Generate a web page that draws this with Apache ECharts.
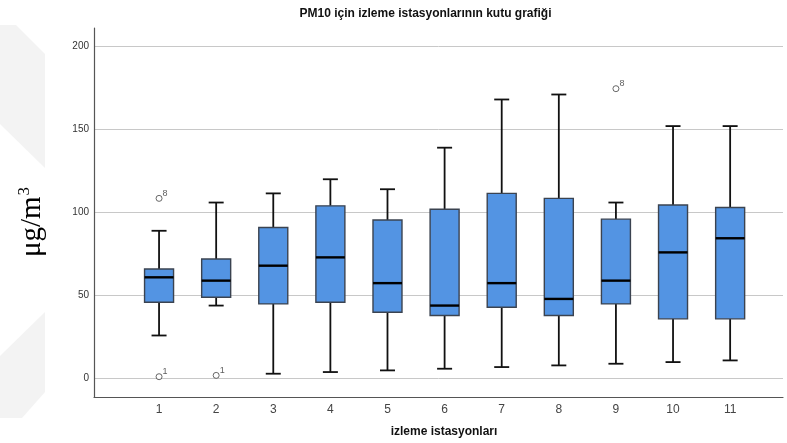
<!DOCTYPE html>
<html>
<head>
<meta charset="utf-8">
<script src="https://cdn.jsdelivr.net/npm/echarts@6/dist/echarts.min.js"></script>
<style>
  html, body { margin: 0; padding: 0; background: #fff; }
  #chart { width: 787px; height: 443px; }
</style>
</head>
<body>
<div id="chart"></div>
<script>
// station labels and box statistics
const stations = ["1", "2", "3", "4", "5", "6", "7", "8", "9", "10", "11"];
const whiskerLow = [26, 44, 3, 4, 5, 6, 7, 8, 9, 10, 11];
const q1 = [46, 49, 45, 46, 40, 38, 43, 38, 45, 36, 36];
const median = [61, 59, 68, 73, 57.5, 44, 57.5, 48, 59, 76, 84.5];
const q3 = [66, 72, 91, 104, 95.5, 102, 111.5, 108.5, 96, 104.5, 103];
const whiskerHigh = [89, 106, 111.5, 120, 114, 139, 168, 171, 106, 152, 152];

// outliers: [station index, value, case label]
const outlierStation = [0, 0, 1, 8];
const outlierValue = [108.5, 1.2, 2, 174.5];
const outlierCase = ["8", "1", "1", "8"];

const yTicks = [0, 50, 100, 150, 200];

const boxData = stations.map((s, i) => [i, whiskerLow[i], q1[i], median[i], q3[i], whiskerHigh[i]]);
const outlierData = outlierStation.map((s, i) => ({ value: [s, outlierValue[i]], name: outlierCase[i] }));

const chart = echarts.init(document.getElementById("chart"), null, { renderer: "canvas" });

const BOX_HALF = 14.5;
const CAP_HALF = 7.5;

function renderBox(params, api) {
  const idx = api.value(0);
  const pLow = api.coord([idx, api.value(1)]);
  const pQ1 = api.coord([idx, api.value(2)]);
  const pMed = api.coord([idx, api.value(3)]);
  const pQ3 = api.coord([idx, api.value(4)]);
  const pHigh = api.coord([idx, api.value(5)]);
  const x = pMed[0];
  const whisker = { stroke: "#111", lineWidth: 1.8 };
  return {
    type: "group",
    children: [
      { type: "line", shape: { x1: x, y1: pQ3[1], x2: x, y2: pHigh[1] }, style: whisker },
      { type: "line", shape: { x1: x - CAP_HALF, y1: pHigh[1], x2: x + CAP_HALF, y2: pHigh[1] }, style: whisker },
      { type: "line", shape: { x1: x, y1: pQ1[1], x2: x, y2: pLow[1] }, style: whisker },
      { type: "line", shape: { x1: x - CAP_HALF, y1: pLow[1], x2: x + CAP_HALF, y2: pLow[1] }, style: whisker },
      {
        type: "rect",
        shape: { x: x - BOX_HALF, y: pQ3[1], width: BOX_HALF * 2, height: pQ1[1] - pQ3[1] },
        style: { fill: "#5394e3", stroke: "#3b4350", lineWidth: 1.4 }
      },
      { type: "line", shape: { x1: x - BOX_HALF, y1: pMed[1], x2: x + BOX_HALF, y2: pMed[1] }, style: { stroke: "#000", lineWidth: 2.4 } }
    ]
  };
}

chart.setOption({
  animation: false,
  backgroundColor: "#fff",
  graphic: [
    // faint watermark shapes at the left edge
    { type: "polygon", shape: { points: [[0, 25], [16, 25], [45, 54], [45, 168], [0, 124]] }, style: { fill: "#f3f3f3" }, z: -10 },
    { type: "polygon", shape: { points: [[45, 312], [45, 392], [22, 418], [0, 418], [0, 356]] }, style: { fill: "#f3f3f3" }, z: -10 },
    {
      type: "text", x: 425.5, y: 14,
      style: { text: "PM10 için izleme istasyonlarının kutu grafiği", font: "bold 12px 'Liberation Sans', Arial", fill: "#111", textAlign: "center", textVerticalAlign: "middle" }
    },
    {
      type: "text", x: 444, y: 432,
      style: { text: "izleme istasyonları", font: "bold 12px 'Liberation Sans', Arial", fill: "#111", textAlign: "center", textVerticalAlign: "middle" }
    },
    {
      type: "text", x: 32, y: 222, rotation: Math.PI / 2,
      style: {
        text: "{a|μg/m}{b|3}",
        textAlign: "center", textVerticalAlign: "middle",
        rich: {
          a: { fontFamily: "'Liberation Serif', 'Times New Roman', serif", fontSize: 29, fill: "#000" },
          b: { fontFamily: "'Liberation Serif', 'Times New Roman', serif", fontSize: 17, fill: "#000", verticalAlign: "top", padding: [0, 0, 14, 1] }
        }
      }
    }
  ],
  grid: [
    { left: 94, right: 4, top: 28, bottom: 46 },          // frame with axis lines
    { left: 94, right: 4, top: 46.3, bottom: 64.3 },      // y labels and grid lines
    { left: 130.5, right: 28.3, top: 46.3, bottom: 64.3 } // boxes
  ],
  xAxis: [
    { gridIndex: 0, type: "value", min: 0, max: 1, axisLine: { show: true, onZero: false, lineStyle: { color: "#555", width: 1.2 } }, axisTick: { show: false }, axisLabel: { show: false }, splitLine: { show: false } },
    { gridIndex: 1, type: "value", show: false, min: 0, max: 1 },
    {
      gridIndex: 2, type: "category", data: stations, boundaryGap: true,
      axisLine: { show: false }, axisTick: { show: false }, splitLine: { show: false },
      axisLabel: { margin: 25, fontSize: 12, color: "#444", fontFamily: "'Liberation Sans', Arial" }
    }
  ],
  yAxis: [
    { gridIndex: 0, type: "value", min: 0, max: 1, axisLine: { show: true, lineStyle: { color: "#555", width: 1.2 } }, axisTick: { show: false }, axisLabel: { show: false }, splitLine: { show: false } },
    {
      gridIndex: 1, type: "value", min: yTicks[0], max: yTicks[yTicks.length - 1], interval: 50,
      axisLine: { show: false }, axisTick: { show: false },
      axisLabel: { margin: 5, fontSize: 10, color: "#333", fontFamily: "'Liberation Sans', Arial" },
      splitLine: { show: true, lineStyle: { color: "#c8c8c8", width: 1 } }
    },
    { gridIndex: 2, type: "value", show: false, min: 0, max: 200 }
  ],
  series: [
    {
      type: "custom",
      xAxisIndex: 2, yAxisIndex: 2,
      renderItem: renderBox,
      data: boxData,
      encode: { x: 0, y: [1, 2, 3, 4, 5] },
      z: 5
    },
    {
      type: "scatter",
      xAxisIndex: 2, yAxisIndex: 2,
      symbol: "circle",
      symbolSize: 6,
      itemStyle: { color: "#fff", borderColor: "#444", borderWidth: 1 },
      label: {
        show: true, formatter: p => p.name, position: "right", distance: 0, offset: [0, -5],
        fontSize: 9, color: "#333", fontFamily: "'Liberation Sans', Arial"
      },
      data: outlierData,
      z: 6
    }
  ]
});
</script>
</body>
</html>
